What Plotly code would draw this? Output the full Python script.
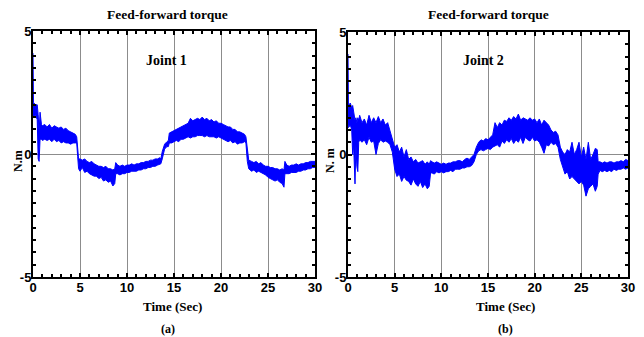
import plotly.graph_objects as go

# ---------------- data ----------------
# Joint 1: time (s), upper and lower envelope of the noisy torque (N.m)
t1 = [0, 0.05, 0.25, 0.45, 0.55, 0.65, 0.75, 0.9, 1.0, 1.25, 1.5, 1.75, 2.0, 2.25, 2.5, 2.75,
      3.0, 3.25, 3.5, 3.75, 4.0, 4.25, 4.5, 4.65, 4.75, 4.85, 5.0, 5.25, 5.5, 5.75, 6.0, 6.25,
      6.5, 6.75, 7.0, 7.25, 7.5, 7.75, 8.0, 8.25, 8.5, 8.7, 8.8, 9.0, 9.25, 9.5, 9.75, 10.0,
      10.25, 10.5, 10.75, 11.0, 11.25, 11.5, 11.75, 12.0, 12.25, 12.5, 12.75, 13.0, 13.25, 13.5,
      13.6, 13.75, 13.9, 14.0, 14.25, 14.4, 14.5, 14.75, 15.0, 15.25, 15.5, 15.75, 16.0, 16.25,
      16.5, 16.75, 17.0, 17.25, 17.5, 17.75, 18.0, 18.25, 18.5, 18.75, 19.0, 19.25, 19.5, 19.75,
      20.0, 20.25, 20.5, 20.75, 21.0, 21.25, 21.5, 21.75, 22.0, 22.25, 22.5, 22.65, 22.8, 22.95,
      23.25, 23.5, 23.75, 24.0, 24.25, 24.5, 24.75, 25.0, 25.25, 25.5, 25.75, 26.0, 26.25, 26.5,
      26.7, 26.8, 27.0, 27.25, 27.5, 27.75, 28.0, 28.25, 28.5, 28.75, 29.0, 29.25, 29.5, 29.75, 30.0]
up1 = [4.1, 2.1, 2.0, 2.0, 1.6, 0.9, 1.7, 1.2, 1.15, 1.2, 1.1, 1.2, 1.05, 1.15, 1.1, 1.05,
       1.1, 1.0, 1.05, 0.95, 0.9, 0.85, 0.8, 0.7, 0.2, -0.2, -0.2, -0.25, -0.2, -0.3, -0.35, -0.3,
       -0.4, -0.45, -0.5, -0.5, -0.55, -0.5, -0.6, -0.6, -0.65, -0.6, -0.35, -0.45, -0.5, -0.45, -0.5, -0.45,
       -0.45, -0.4, -0.45, -0.4, -0.4, -0.35, -0.35, -0.3, -0.3, -0.25, -0.25, -0.2, -0.2, -0.15,
       -0.2, 0.1, 0.35, 0.4, 0.5, 0.55, 0.85, 0.9, 0.95, 1.0, 1.05, 1.1, 1.15, 1.2,
       1.25, 1.45, 1.35, 1.4, 1.45, 1.4, 1.5, 1.4, 1.45, 1.35, 1.4, 1.3, 1.35, 1.25,
       1.25, 1.2, 1.15, 1.1, 1.1, 1.0, 1.0, 0.9, 0.9, 0.85, 0.8, 0.7, 0.1, -0.25,
       -0.3, -0.35, -0.3, -0.4, -0.35, -0.45, -0.5, -0.5, -0.55, -0.55, -0.6, -0.6, -0.65, -0.6,
       -0.65, -0.3, -0.45, -0.5, -0.45, -0.45, -0.4, -0.45, -0.4, -0.4, -0.35, -0.35, -0.3, -0.3, -0.3]
lo1 = [1.5, 1.5, 1.6, 1.4, -0.2, -0.3, 0.6, 0.6, 0.55, 0.6, 0.55, 0.6, 0.5, 0.6, 0.5, 0.55,
       0.45, 0.5, 0.45, 0.45, 0.4, 0.45, 0.45, 0.45, -0.1, -0.6, -0.7, -0.55, -0.75, -0.7, -0.8, -0.85,
       -0.9, -0.9, -1.0, -0.95, -1.1, -1.05, -1.15, -1.1, -1.3, -1.2, -0.8, -0.8, -0.85, -0.8, -0.8, -0.75,
       -0.75, -0.7, -0.7, -0.7, -0.65, -0.65, -0.6, -0.6, -0.55, -0.55, -0.5, -0.5, -0.45, -0.4,
       -0.4, -0.2, 0.15, 0.2, 0.3, 0.3, 0.45, 0.45, 0.5, 0.55, 0.5, 0.6, 0.6, 0.65,
       0.7, 0.65, 0.7, 0.7, 0.75, 0.75, 0.75, 0.7, 0.75, 0.7, 0.7, 0.7, 0.65, 0.7,
       0.65, 0.6, 0.55, 0.5, 0.55, 0.45, 0.5, 0.4, 0.45, 0.45, 0.5, 0.45, -0.3, -0.6,
       -0.7, -0.65, -0.75, -0.7, -0.75, -0.8, -0.85, -0.95, -1.0, -1.05, -1.1, -1.05, -1.15, -1.2,
       -1.35, -0.8, -0.8, -0.8, -0.75, -0.75, -0.75, -0.7, -0.7, -0.65, -0.65, -0.6, -0.6, -0.55, -0.55]

# Joint 2
t2 = [0, 0.05, 0.25, 0.4, 0.5, 0.6, 0.75, 0.85, 0.95, 1.05, 1.15, 1.25, 1.5, 1.75, 2.0, 2.25,
      2.5, 2.75, 3.0, 3.25, 3.5, 3.75, 4.0, 4.25, 4.5, 4.75, 5.0, 5.25, 5.5, 5.75, 6.0, 6.25,
      6.5, 6.75, 7.0, 7.25, 7.5, 7.75, 8.0, 8.25, 8.5, 8.7, 8.85, 9.0, 9.25, 9.5, 9.75, 10.0,
      10.25, 10.5, 10.75, 11.0, 11.25, 11.5, 11.75, 12.0, 12.25, 12.5, 12.75, 13.0, 13.25, 13.5,
      13.75, 14.0, 14.25, 14.5, 14.75, 15.0, 15.25, 15.5, 15.75, 16.0, 16.25, 16.5, 16.75, 17.0,
      17.25, 17.5, 17.75, 18.0, 18.25, 18.5, 18.75, 19.0, 19.25, 19.5, 19.75, 20.0, 20.25, 20.5,
      20.75, 21.0, 21.25, 21.5, 21.75, 22.0, 22.25, 22.5, 22.75, 23.0, 23.25, 23.5, 23.75, 24.0,
      24.25, 24.5, 24.75, 25.0, 25.25, 25.5, 25.75, 26.0, 26.25, 26.5, 26.7, 26.8, 27.0, 27.25,
      27.5, 27.75, 28.0, 28.25, 28.5, 28.75, 29.0, 29.25, 29.5, 29.75, 30.0]
up2 = [4.1, 2.0, 2.1, 1.9, 2.0, 1.7, 1.4, 1.5, 1.3, 1.5, 1.4, 1.6, 1.3, 1.45, 1.2, 1.6,
       1.3, 1.5, 1.3, 1.55, 1.3, 1.45, 1.2, 1.3, 1.0, 0.7, 0.3, 0.4, 0.1, 0.3, -0.1, 0.2,
       -0.2, -0.1, -0.3, -0.2, -0.35, -0.3, -0.25, -0.4, -0.3, -0.4, -0.25, -0.3, -0.35, -0.3, -0.35, -0.4,
       -0.35, -0.4, -0.35, -0.35, -0.3, -0.3, -0.25, -0.25, -0.3, -0.2, -0.15, -0.2, -0.1, 0.0,
       0.3, 0.5, 0.6, 0.55, 0.65, 0.6, 0.7, 0.8, 1.3, 1.1, 1.3, 1.2, 1.4, 1.35,
       1.5, 1.4, 1.55, 1.45, 1.65, 1.4, 1.5, 1.45, 1.4, 1.5, 1.4, 1.45, 1.3, 1.45,
       1.2, 1.4, 1.3, 1.2, 1.0, 0.9, 0.95, 0.8, 0.3, 0.1, 0.0, 0.2, 0.1, 0.5,
       0.0, 0.2, 0.5, -0.1, 0.3, -0.2, 0.5, -0.2, 0.0, 0.25, 0.2, -0.3, -0.3, -0.35,
       -0.3, -0.35, -0.3, -0.3, -0.35, -0.3, -0.3, -0.25, -0.3, -0.2, -0.25]
lo2 = [1.2, 1.1, 1.2, 1.0, 0.0, 0.4, -1.2, 0.4, -0.5, -0.7, 0.5, 0.6, 0.5, 0.6, 0.4, 0.7,
       0.5, 0.55, 0.0, 0.45, 0.6, 0.5, 0.55, 0.5, 0.4, 0.1, -0.6, -0.9, -0.8, -1.1, -0.9, -1.05,
       -1.1, -1.25, -1.0, -1.2, -1.3, -1.1, -1.35, -1.2, -1.4, -1.3, -0.75, -0.75, -0.8, -0.7, -0.75, -0.7,
       -0.75, -0.7, -0.7, -0.65, -0.7, -0.6, -0.6, -0.6, -0.55, -0.55, -0.5, -0.5, -0.45, -0.3,
       0.0, 0.15, 0.2, 0.15, 0.2, 0.25, 0.2, 0.3, 0.35, 0.4, 0.3, 0.55, 0.45, 0.6,
       0.5, 0.65, 0.45, 0.6, 0.5, 0.7, 0.45, 0.7, 0.6, 0.55, 0.7, 0.55, 0.6, 0.5,
       0.3, 0.05, 0.4, 0.35, 0.5, 0.4, 0.45, 0.3, -0.2, -0.5, -0.8, -0.7, -1.0, -0.9,
       -1.0, -1.1, -1.2, -1.1, -1.25, -1.7, -1.4, -1.3, -1.2, -1.5, -1.3, -0.8, -0.65, -0.7,
       -0.65, -0.7, -0.65, -0.7, -0.6, -0.65, -0.6, -0.6, -0.55, -0.6, -0.55]

x_ticks = [0, 5, 10, 15, 20, 25, 30]
y_ticks = [-5, 0, 5]
y_ticklabels = ["-5", "0", "5"]
panel_titles = ["Feed-forward torque", "Feed-forward torque"]
joint_labels = ["Joint 1", "Joint 2"]
panel_letters = ["(a)", "(b)"]
x_title = "Time (Sec)"
y_titles = ["N.m", "N. m"]

# ---------------- figure ----------------
OFF = 8                       # page body margin of the html page
W, H = 644 - OFF, 337 - OFF
ML, MR, MT, MB = 22, 8, 20, 52
PW, PH = W - ML - MR, H - MT - MB
BLUE = "#0000FF"
SERIF = "Liberation Serif"
SANS = "Liberation Sans"


def fx(px):
    return (px - OFF - ML) / PW


def fy(py):
    return 1 - (py - OFF - MT) / PH


fig = go.Figure()
panels = [(t1, up1, lo1, "x", "y"), (t2, up2, lo2, "x2", "y2")]
for t, up, lo, xa, ya in panels:
    fig.add_trace(go.Scatter(x=t, y=lo, mode="lines", line=dict(color=BLUE, width=1),
                             xaxis=xa, yaxis=ya, showlegend=False, hoverinfo="skip"))
    fig.add_trace(go.Scatter(x=t, y=up, mode="lines", line=dict(color=BLUE, width=1),
                             fill="tonexty", fillcolor=BLUE,
                             xaxis=xa, yaxis=ya, showlegend=False, hoverinfo="skip"))

xdoms = [[fx(33), fx(315)], [fx(348), fx(628)]]
ydoms = [[fy(277), fy(31)], [fy(277), fy(32)]]

axis_common = dict(showline=True, linecolor="black", linewidth=2, mirror="allticks",
                   ticks="inside", ticklen=4, tickwidth=1.5, tickcolor="black",
                   showgrid=True, gridcolor="#8c8c8c", gridwidth=1, zeroline=False,
                   automargin=False)

layout = dict(width=W, height=H, margin=dict(l=ML, r=MR, t=MT, b=MB, autoexpand=False),
              plot_bgcolor="white", paper_bgcolor="white", showlegend=False)
for i in range(2):
    sx = "" if i == 0 else "2"
    layout["xaxis" + sx] = dict(
        axis_common, domain=xdoms[i], range=[0, 30], tickmode="array", tickvals=x_ticks,
        ticktext=[str(v) for v in x_ticks],
        tickfont=dict(family=SANS, size=13, color="black", weight="bold"),
        minor=dict(ticks="inside", dtick=1, ticklen=3, tickcolor="black", showgrid=False),
        anchor="y" + sx, ticklabelstandoff=-3)
    layout["yaxis" + sx] = dict(
        axis_common, domain=ydoms[i], range=[-5, 5], tickmode="array", tickvals=y_ticks,
        ticktext=y_ticklabels,
        tickfont=dict(family=SANS, size=13, color="black", weight="bold"),
        minor=dict(ticks="inside", dtick=0.5, ticklen=3, tickcolor="black", showgrid=False),
        anchor="x" + sx, ticklabelstandoff=-3)
fig.update_layout(**layout)

ann = []
c = dict(showarrow=False, xanchor="center", yanchor="middle")
for i in range(2):
    sx = "" if i == 0 else "2"
    ann.append(dict(c, text="<b>%s</b>" % panel_titles[i], x=fx([167, 488][i]), y=fy(15),
                    xref="paper", yref="paper",
                    font=dict(family=SERIF, size=13.5, color="black")))
    ann.append(dict(c, text="<b>%s</b>" % joint_labels[i], x=[14.25, 14.5][i], y=[3.82, 3.85][i],
                    xref="x" + sx, yref="y" + sx,
                    font=dict(family=SERIF, size=14, color="black")))
    ann.append(dict(c, text="<b>%s</b>" % x_title, x=fx([172, 505][i]), y=fy(306),
                    xref="paper", yref="paper",
                    font=dict(family=SERIF, size=13, color="black")))
    ann.append(dict(c, text="<b>%s</b>" % panel_letters[i], x=fx([168, 505][i]), y=fy(329),
                    xref="paper", yref="paper",
                    font=dict(family=SERIF, size=12, color="black")))
    ann.append(dict(c, text="<b>%s</b>" % y_titles[i], x=fx([18, 330][i]), y=fy(161),
                    xref="paper", yref="paper", textangle=-90,
                    font=dict(family=SERIF, size=12, color="black")))
fig.update_layout(annotations=ann)

fig.write_html("out.html")
